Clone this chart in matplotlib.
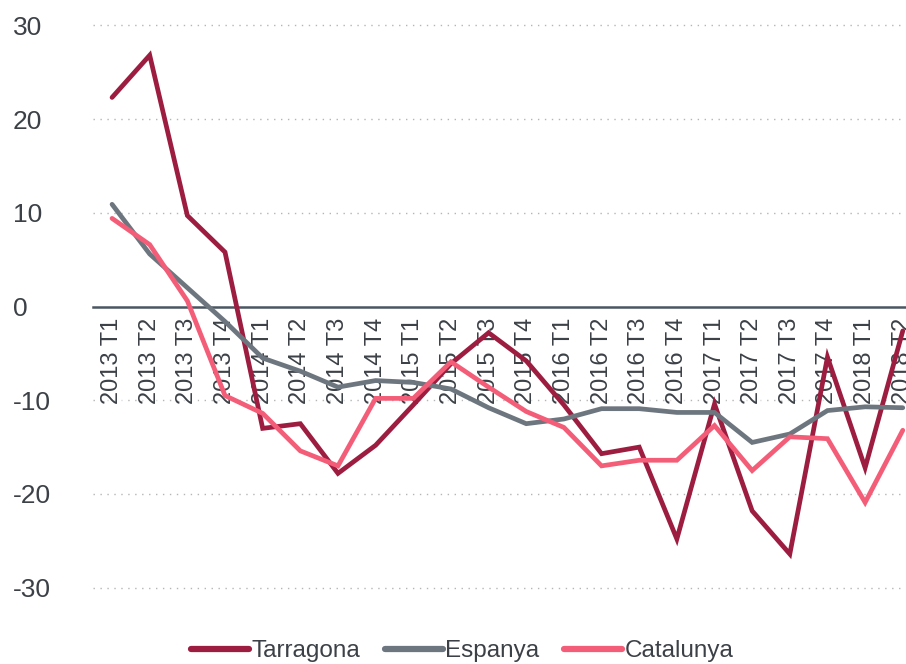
import matplotlib.pyplot as plt
from matplotlib.lines import Line2D
import numpy as np

plt.rcParams['font.family'] = ['Liberation Sans', 'DejaVu Sans']

# quarters on the x axis
quarters = ['2013 T1', '2013 T2', '2013 T3', '2013 T4',
            '2014 T1', '2014 T2', '2014 T3', '2014 T4',
            '2015 T1', '2015 T2', '2015 T3', '2015 T4',
            '2016 T1', '2016 T2', '2016 T3', '2016 T4',
            '2017 T1', '2017 T2', '2017 T3', '2017 T4',
            '2018 T1', '2018 T2']

# series values
tarragona = [22.3, 26.8, 9.7, 5.8, -13.0, -12.5, -17.8, -14.8, -10.5, -6.1, -2.8,
             -5.8, -10.5, -15.7, -15.0, -24.8, -10.4, -21.8, -26.4, -5.4, -17.2, -2.6]
espanya = [10.9, 5.6, 2.0, -1.6, -5.5, -6.9, -8.6, -7.9, -8.1, -8.8, -10.8,
           -12.5, -12.0, -10.9, -10.9, -11.3, -11.3, -14.5, -13.6, -11.1, -10.7, -10.8]
catalunya = [9.4, 6.6, 0.6, -9.5, -11.4, -15.4, -17.0, -9.8, -9.8, -5.9, -8.6,
             -11.2, -12.9, -17.0, -16.4, -16.4, -12.7, -17.5, -13.9, -14.1, -20.9, -13.2]

yticks = [30, 20, 10, 0, -10, -20, -30]

c_tar = '#9c1d3f'
c_esp = '#6d767f'
c_cat = '#f45d78'
txt = '#3c4147'

fig = plt.figure(figsize=(9.06, 6.64), dpi=100)
ax = fig.add_axes([0.1029, 0.0866, 0.8977, 0.9036])

x = np.arange(len(quarters))
ax.plot(x, tarragona, color=c_tar, lw=3.4, solid_capstyle='round', solid_joinstyle='miter', zorder=2)
ax.plot(x, espanya, color=c_esp, lw=3.4, solid_capstyle='round', solid_joinstyle='miter', zorder=2)
ax.plot(x, catalunya, color=c_cat, lw=3.4, solid_capstyle='round', solid_joinstyle='miter', zorder=2)

ax.set_xlim(-0.5, 21.1)
ax.set_ylim(-32, 32)

# dotted grid lines
for v in yticks:
    if v != 0:
        ax.axhline(v, color='#b5b5b5', lw=1, ls=(0, (1, 4)), zorder=1)

for s in ['top', 'right', 'left']:
    ax.spines[s].set_visible(False)
ax.spines['bottom'].set_position(('data', 0))
ax.spines['bottom'].set_color('#4b5661')
ax.spines['bottom'].set_linewidth(1.8)
ax.spines['bottom'].set_zorder(1.5)

ax.set_xticks(x)
ax.set_xticklabels(quarters, rotation=90, fontsize=17, color=txt)
ax.tick_params(axis='x', length=0, pad=8)
for lab in ax.get_xticklabels():
    lab.set_bbox(dict(facecolor='white', alpha=0.55, edgecolor='none', pad=0))

ax.set_yticks(yticks)
ax.set_yticklabels([str(v) for v in yticks], fontsize=19, color=txt)
ax.tick_params(axis='y', length=0, pad=58)
for lab in ax.get_yticklabels():
    lab.set_horizontalalignment('left')

handles = [Line2D([], [], color=c, lw=4.5, solid_capstyle='round') for c in (c_tar, c_esp, c_cat)]
fig.legend(handles, ['Tarragona', 'Espanya', 'Catalunya'], loc='lower center',
           bbox_to_anchor=(0.51, -0.03), ncol=3, frameon=False,
           fontsize=17.5, handlelength=2.4, handletextpad=0.1, columnspacing=1.0,
           labelcolor=txt)

fig.savefig('out.png', dpi=100)
